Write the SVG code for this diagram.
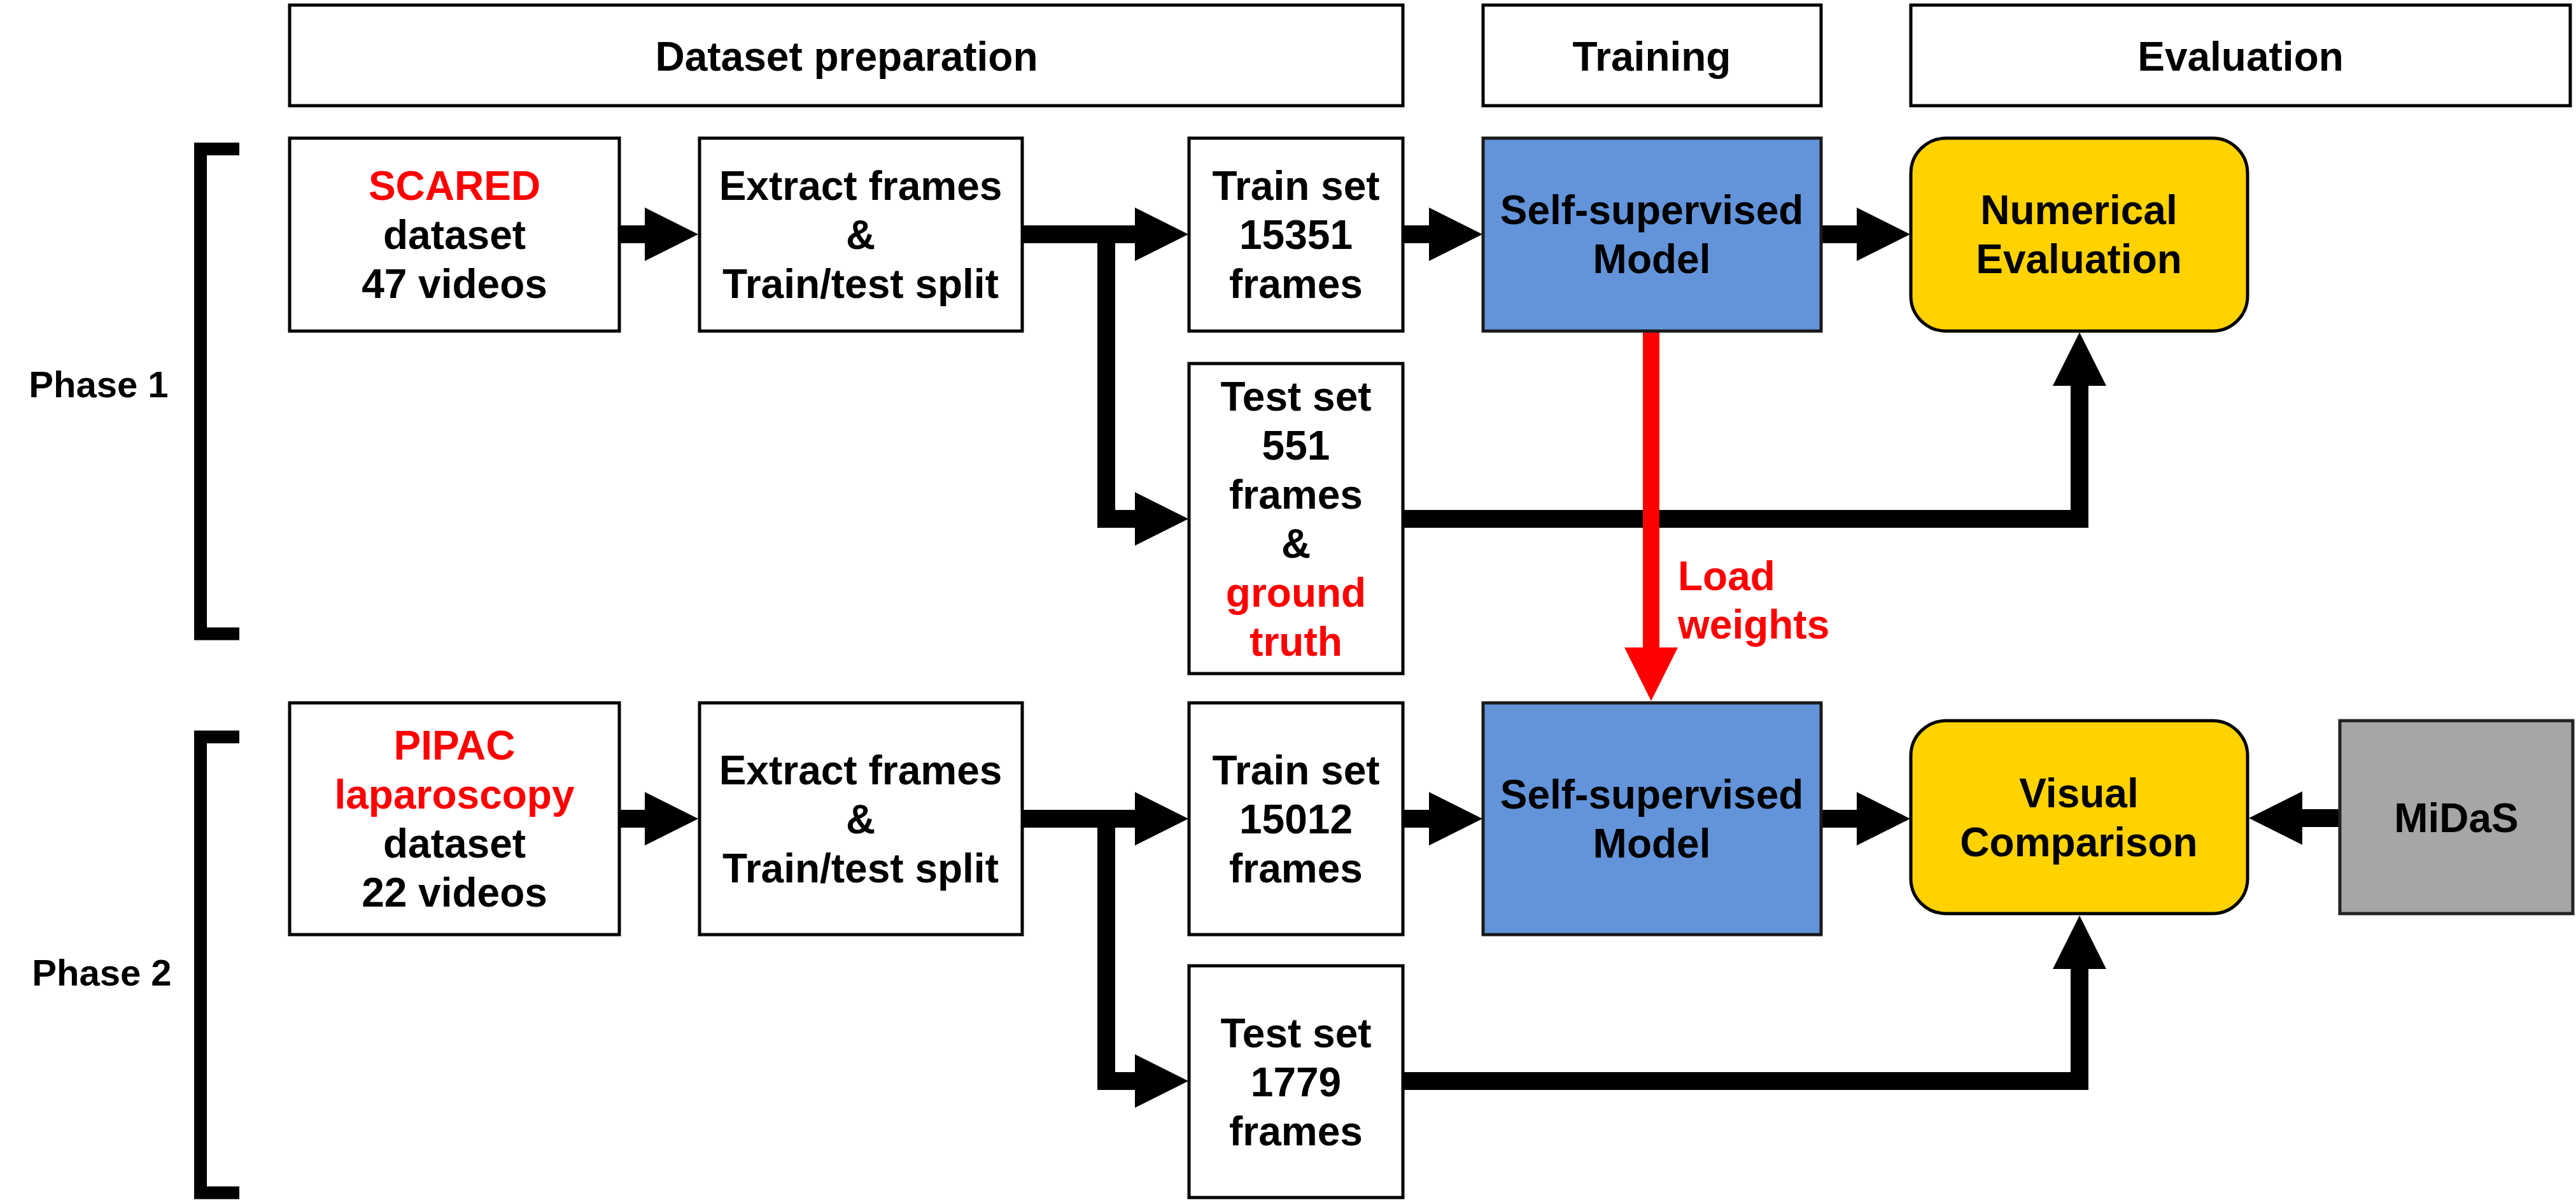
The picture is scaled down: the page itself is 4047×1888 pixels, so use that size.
<svg xmlns="http://www.w3.org/2000/svg" width="4047" height="1888" viewBox="0 0 4047 1888">
<style>
.box{fill:#fff;stroke:#000;stroke-width:5}
.blue{fill:#6394DA;stroke:#1a1a1a;stroke-width:5}
.yellow{fill:#FFD200;stroke:#000;stroke-width:5}
.gray{fill:#A6A6A6;stroke:#222;stroke-width:5}
text{font-family:"Liberation Sans",Arial,sans-serif;font-weight:bold;font-size:64px;fill:#000;text-anchor:middle}
.red{fill:#FF0000}
.lbl{font-size:58px}
.conn{fill:none;stroke:#000;stroke-width:28;stroke-linejoin:miter;stroke-linecap:butt}
.rconn{fill:none;stroke:#FF0000;stroke-width:26;stroke-linecap:butt}
.brk{fill:none;stroke:#000;stroke-width:20;stroke-linejoin:miter}
</style>
<defs>
<marker id="ah" markerUnits="userSpaceOnUse" viewBox="0 0 84 84" markerWidth="84" markerHeight="84" refX="0" refY="42" orient="auto"><path d="M0,0 L84,42 L0,84 Z" fill="#000"/></marker>
<marker id="ahr" markerUnits="userSpaceOnUse" viewBox="0 0 84 84" markerWidth="84" markerHeight="84" refX="0" refY="42" orient="auto"><path d="M0,0 L84,42 L0,84 Z" fill="#FF0000"/></marker>
</defs>
<rect width="4047" height="1888" fill="#fff"/>

<g id="hdr-dataset"><rect class="box" x="455" y="8" width="1749" height="158"/><text x="1330" y="111">Dataset preparation</text></g>
<g id="hdr-training"><rect class="box" x="2330" y="8" width="531" height="158"/><text x="2595" y="111">Training</text></g>
<g id="hdr-evaluation"><rect class="box" x="3002" y="8" width="1036" height="158"/><text x="3520" y="111">Evaluation</text></g>

<g id="phase1"><text class="lbl" x="155" y="624">Phase 1</text><path class="brk" d="M376,234 H315 V995.5 H376"/></g>
<g id="phase2"><text class="lbl" x="160" y="1548">Phase 2</text><path class="brk" d="M376,1157.5 H315 V1873.5 H376"/></g>

<g id="connectors">
<path class="conn" d="M975,368 H1013" marker-end="url(#ah)"/>
<path class="conn" d="M1608,368 H1783" marker-end="url(#ah)"/>
<path class="conn" d="M1738,368 V815 H1783" marker-end="url(#ah)"/>
<path class="conn" d="M2206,368 H2245" marker-end="url(#ah)"/>
<path class="conn" d="M2863,368 H2917" marker-end="url(#ah)"/>
<path class="conn" d="M2206,815 H3267 V606" marker-end="url(#ah)"/>
<path class="rconn" d="M2594,522 V1017" marker-end="url(#ahr)"/>
<path class="conn" d="M975,1286 H1013" marker-end="url(#ah)"/>
<path class="conn" d="M1608,1286 H1783" marker-end="url(#ah)"/>
<path class="conn" d="M1738,1286 V1698 H1783" marker-end="url(#ah)"/>
<path class="conn" d="M2206,1286 H2245" marker-end="url(#ah)"/>
<path class="conn" d="M2863,1286 H2917" marker-end="url(#ah)"/>
<path class="conn" d="M3674,1285 H3617" marker-end="url(#ah)"/>
<path class="conn" d="M2206,1698 H3267 V1522" marker-end="url(#ah)"/>
<text class="red" x="2636" y="927" style="text-anchor:start">Load</text>
<text class="red" x="2636" y="1003" style="text-anchor:start">weights</text>
</g>

<g id="scared"><rect class="box" x="455" y="217" width="518" height="303"/>
<text class="red" x="714" y="314">SCARED</text><text x="714" y="391">dataset</text><text x="714" y="468">47 videos</text></g>
<g id="extract1"><rect class="box" x="1099" y="217" width="507" height="303"/>
<text x="1352" y="314">Extract frames</text><text x="1352" y="391">&amp;</text><text x="1352" y="468">Train/test split</text></g>
<g id="train1"><rect class="box" x="1868" y="217" width="336" height="303"/>
<text x="2036" y="314">Train set</text><text x="2036" y="391">15351</text><text x="2036" y="468">frames</text></g>
<g id="self1"><rect class="blue" x="2330" y="217" width="531" height="303"/>
<text x="2595" y="352">Self-supervised</text><text x="2595" y="429">Model</text></g>
<g id="numerical"><rect class="yellow" x="3002" y="217" width="529" height="303" rx="55"/>
<text x="3266" y="352">Numerical</text><text x="3266" y="429">Evaluation</text></g>
<g id="test1"><rect class="box" x="1868" y="571" width="336" height="487"/>
<text x="2036" y="645">Test set</text><text x="2036" y="722">551</text><text x="2036" y="799">frames</text><text x="2036" y="876">&amp;</text><text class="red" x="2036" y="953">ground</text><text class="red" x="2036" y="1030">truth</text></g>

<g id="pipac"><rect class="box" x="455" y="1104" width="518" height="364"/>
<text class="red" x="714" y="1193">PIPAC</text><text class="red" x="714" y="1270">laparoscopy</text><text x="714" y="1347">dataset</text><text x="714" y="1424">22 videos</text></g>
<g id="extract2"><rect class="box" x="1099" y="1104" width="507" height="364"/>
<text x="1352" y="1232">Extract frames</text><text x="1352" y="1309">&amp;</text><text x="1352" y="1386">Train/test split</text></g>
<g id="train2"><rect class="box" x="1868" y="1104" width="336" height="364"/>
<text x="2036" y="1232">Train set</text><text x="2036" y="1309">15012</text><text x="2036" y="1386">frames</text></g>
<g id="self2"><rect class="blue" x="2330" y="1104" width="531" height="364"/>
<text x="2595" y="1270">Self-supervised</text><text x="2595" y="1347">Model</text></g>
<g id="visual"><rect class="yellow" x="3002" y="1132" width="529" height="303" rx="55"/>
<text x="3266" y="1268">Visual</text><text x="3266" y="1345">Comparison</text></g>
<g id="midas"><rect class="gray" x="3676" y="1132" width="366" height="303"/>
<text x="3859" y="1307">MiDaS</text></g>
<g id="test2"><rect class="box" x="1868" y="1517" width="336" height="364"/>
<text x="2036" y="1645">Test set</text><text x="2036" y="1722">1779</text><text x="2036" y="1799">frames</text></g>
</svg>
